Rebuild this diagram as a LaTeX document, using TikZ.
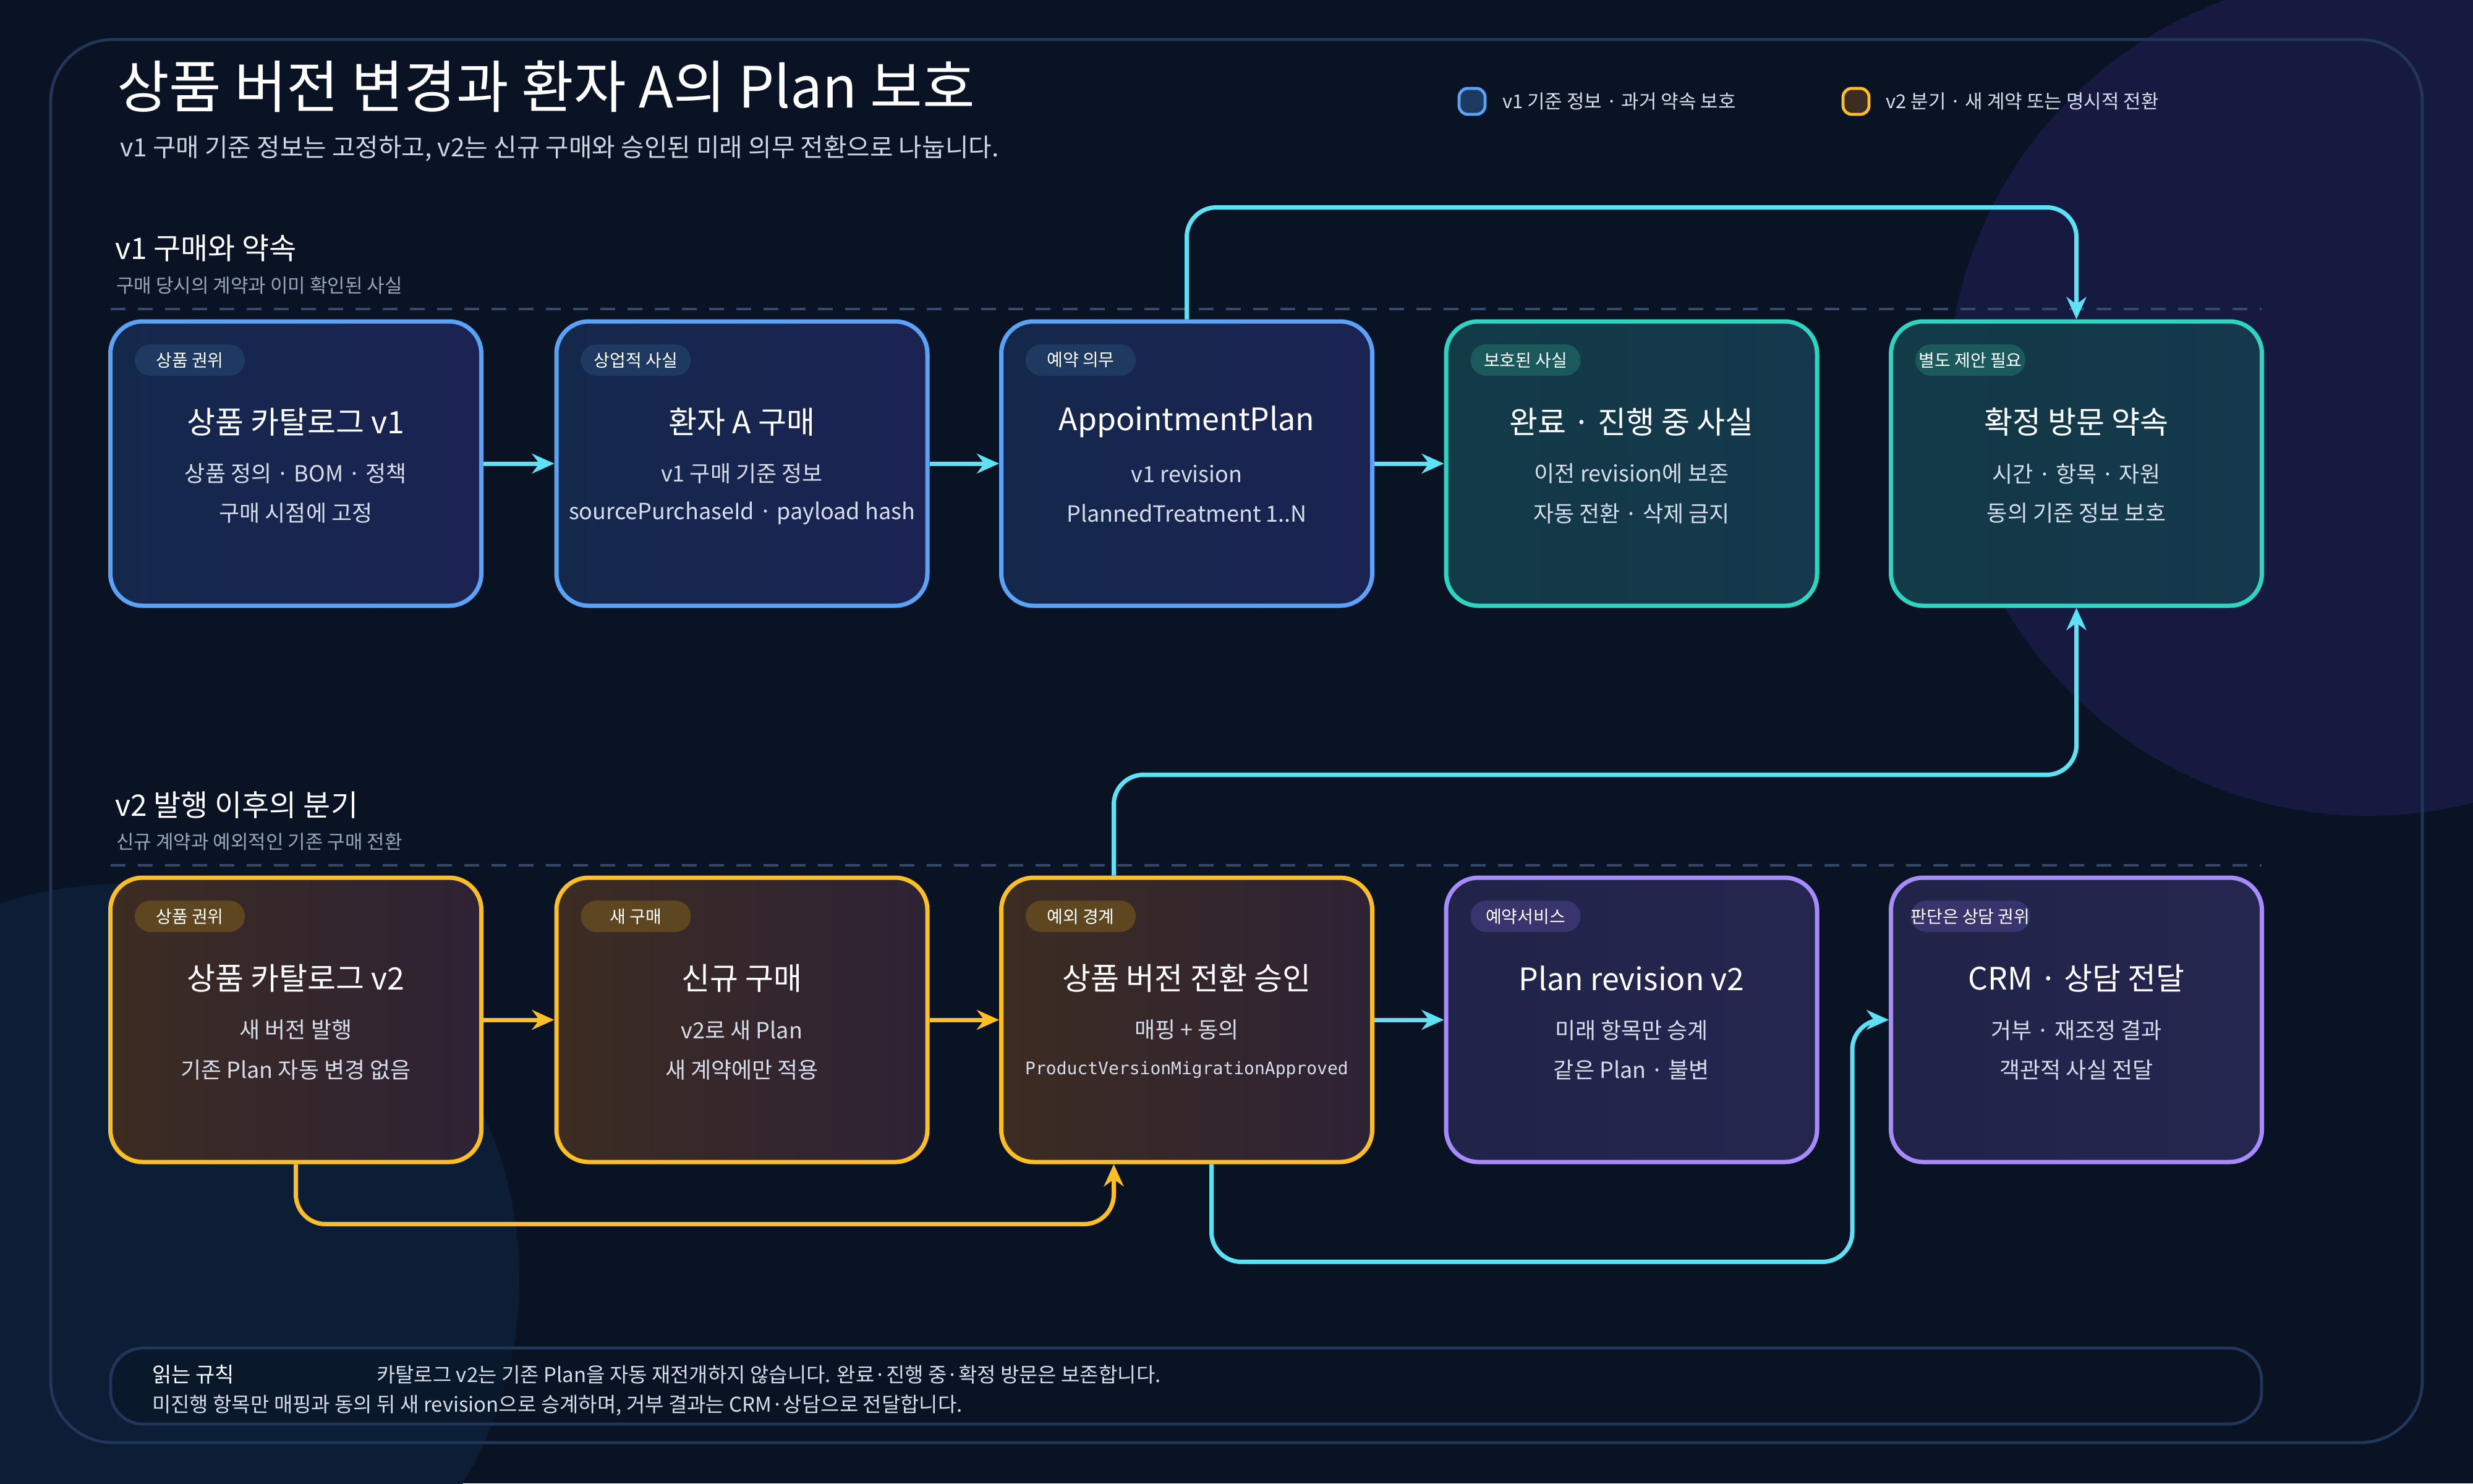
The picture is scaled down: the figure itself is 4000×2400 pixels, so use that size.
\documentclass[tikz,border=0pt]{standalone}
\usepackage{fontspec}
\setmainfont{Noto Sans CJK KR}
\setmonofont{DejaVu Sans Mono}
\usetikzlibrary{calc,arrows.meta}
\definecolor{bg}{HTML}{0A1324}
\definecolor{frame}{HTML}{22365A}
\definecolor{cyanL}{HTML}{5CE1F5}
\definecolor{yel}{HTML}{FBBF24}
\definecolor{blobA}{HTML}{161A40}
\definecolor{blobB}{HTML}{0C1E36}
\definecolor{sepc}{HTML}{34496B}
\definecolor{bB}{HTML}{5AA2F5}\definecolor{bF1}{HTML}{14284C}\definecolor{bF2}{HTML}{1B2352}\definecolor{bP}{HTML}{1F3A60}
\definecolor{tB}{HTML}{2DD4BF}\definecolor{tF1}{HTML}{123A47}\definecolor{tF2}{HTML}{15384C}\definecolor{tP}{HTML}{1B5A5C}
\definecolor{oB}{HTML}{FBBF24}\definecolor{oF1}{HTML}{3C2C22}\definecolor{oF2}{HTML}{2E2235}\definecolor{oP}{HTML}{5E4620}
\definecolor{pB}{HTML}{A78BFA}\definecolor{pF1}{HTML}{202448}\definecolor{pF2}{HTML}{252650}\definecolor{pP}{HTML}{37346E}
\definecolor{txt}{HTML}{D6DEEA}\definecolor{sub}{HTML}{98A6BC}
\tikzset{
 card/.style={draw=#1B, left color=#1F1, right color=#1F2, line width=1.75pt, rounded corners=13pt, minimum width=150pt, minimum height=115pt, inner sep=0pt},
 pill/.style={fill=#1P, rounded corners=6.3pt, minimum width=44.5pt, minimum height=12.7pt, inner sep=0pt, text=white, font=\fontsize{7}{8}\selectfont},
 ctitle/.style={text=white, font=\fontsize{12.5}{14}\selectfont},
 cline/.style={text=txt, font=\fontsize{9}{10}\selectfont},
 con/.style={line width=1.75pt, rounded corners=12pt, draw=#1, -{Stealth[length=9pt,width=8pt]}},
 sect/.style={anchor=west, text=white, font=\fontsize{12}{14}\selectfont},
 ssub/.style={anchor=west, text=sub, font=\fontsize{7.75}{9}\selectfont},
 sepline/.style={draw=sepc, line width=1pt, dash pattern=on 6pt off 5pt},
}
\newcommand{\mycard}[8]{%
 \node[card=#4] (#1) at (#2,#3) {};
 \node[pill=#4] (#1p) at ($(#1.north west)+(132,66)$) {#5};
 \node[ctitle] (#1t) at ($(#1.north)+(0,166)$) {#6};
 \node[cline] (#1a) at ($(#1.north)+(0,250)$) {#7};
 \node[cline] (#1b) at ($(#1.north)+(0,314)$) {#8};
}
\begin{document}
\begin{tikzpicture}[x=0.25pt,y=-0.25pt]
\useasboundingbox (0,0) rectangle (4000,2400);
\fill[bg] (0,0) rectangle (4000,2400);
\fill[blobA] (3830,640) circle (680);
\fill[blobB] (200,2070) circle (640);
\draw[frame, line width=1.2pt, rounded corners=25pt] (82,64) rectangle (3918,2334);
% header
\node[anchor=west, text=white, font=\fontsize{23}{26}\selectfont] (title) at (175,140) {상품 버전 변경과 환자 A의 Plan 보호};
\node[anchor=west, text=txt!85!sub, font=\fontsize{10.2}{12}\selectfont] (subt) at (180,240) {v1 구매 기준 정보는 고정하고, v2는 신규 구매와 승인된 미래 의무 전환으로 나눕니다.};
\node[draw=bB, fill=bP, line width=1.2pt, rounded corners=3.5pt, minimum width=10.5pt, minimum height=10.5pt, inner sep=0pt] (lg1) at (2381,164) {};
\node[anchor=west, text=txt, font=\fontsize{7.75}{9}\selectfont] (lg1t) at (2416,164) {v1 기준 정보 · 과거 약속 보호};
\node[draw=oB, fill=oF1, line width=1.2pt, rounded corners=3.5pt, minimum width=10.5pt, minimum height=10.5pt, inner sep=0pt] (lg2) at (3002,164) {};
\node[anchor=west, text=txt, font=\fontsize{7.75}{9}\selectfont] (lg2t) at (3036,164) {v2 분기 · 새 계약 또는 명시적 전환};
% sections
\node[sect] (s1) at (172,402) {v1 구매와 약속};
\node[ssub] (s1s) at (174,462) {구매 당시의 계약과 이미 확인된 사실};
\draw[sepline] (179,500) -- (3658,500);
\node[sect] (s2) at (172,1302) {v2 발행 이후의 분기};
\node[ssub] (s2s) at (174,1362) {신규 계약과 예외적인 기존 구매 전환};
\draw[sepline] (179,1400) -- (3658,1400);
% cards row 1
\mycard{b1}{478.5}{750}{b}{상품 권위}{상품 카탈로그 v1}{상품 정의 · BOM · 정책}{구매 시점에 고정}
\mycard{b2}{1200}{750}{b}{상업적 사실}{환자 A 구매}{v1 구매 기준 정보}{sourcePurchaseId · payload hash}
\mycard{b3}{1919.5}{750}{b}{예약 의무}{AppointmentPlan}{v1 revision}{PlannedTreatment 1..N}
\mycard{b4}{2639}{750}{t}{보호된 사실}{완료 · 진행 중 사실}{이전 revision에 보존}{자동 전환 · 삭제 금지}
\mycard{b5}{3358.5}{750}{t}{별도 제안 필요}{확정 방문 약속}{시간 · 항목 · 자원}{동의 기준 정보 보호}
% cards row 2
\mycard{c1}{478.5}{1650}{o}{상품 권위}{상품 카탈로그 v2}{새 버전 발행}{기존 Plan 자동 변경 없음}
\mycard{c2}{1200}{1650}{o}{새 구매}{신규 구매}{v2로 새 Plan}{새 계약에만 적용}
\mycard{c3}{1919.5}{1650}{o}{예외 경계}{상품 버전 전환 승인}{매핑 + 동의}{\fontsize{7}{8}\ttfamily ProductVersionMigrationApproved}
\mycard{c4}{2639}{1650}{p}{예약서비스}{Plan revision v2}{미래 항목만 승계}{같은 Plan · 불변}
\mycard{c5}{3358.5}{1650}{p}{판단은 상담 권위}{CRM · 상담 전달}{거부 · 재조정 결과}{객관적 사실 전달}
% connectors
\draw[con=cyanL] (b1.east) -- (b2.west);
\draw[con=cyanL] (b2.east) -- (b3.west);
\draw[con=cyanL] (b3.east) -- (b4.west);
\draw[con=cyanL] (b3.north) -- ++(0,-181) -| (b5.north);
\draw[con=yel] (c1.east) -- (c2.west);
\draw[con=yel] (c2.east) -- (c3.west);
\draw[con=cyanL] (c3.east) -- (c4.west);
\draw[con=cyanL] ($(c3.north)+(-118,0)$) -- ++(0,-163) -| (b5.south);
\draw[con=yel] (c1.south) -- ++(0,97) -| ($(c3.south)+(-118,0)$);
\coordinate (j) at ($(c5.west)+(-59,0)$);
\draw[con=cyanL] ($(c3.south)+(40,0)$) -- ++(0,158) -| (j) -- (c5.west);
% note
\draw[frame, line width=1.2pt, fill=bg, fill opacity=0.5, rounded corners=13pt] (179,2181) rectangle (3658,2304);
\node[anchor=west, text=white, font=\fontsize{8.5}{10}\selectfont] (n1) at (232,2224) {읽는 규칙};
\node[anchor=west, text=txt, font=\fontsize{8.25}{10}\selectfont] (n2) at (595,2224) {카탈로그 v2는 기존 Plan을 자동 재전개하지 않습니다. 완료·진행 중·확정 방문은 보존합니다.};
\node[anchor=west, text=txt, font=\fontsize{8.25}{10}\selectfont] (n3) at (232,2274) {미진행 항목만 매핑과 동의 뒤 새 revision으로 승계하며, 거부 결과는 CRM·상담으로 전달합니다.};
\end{tikzpicture}
\end{document}
